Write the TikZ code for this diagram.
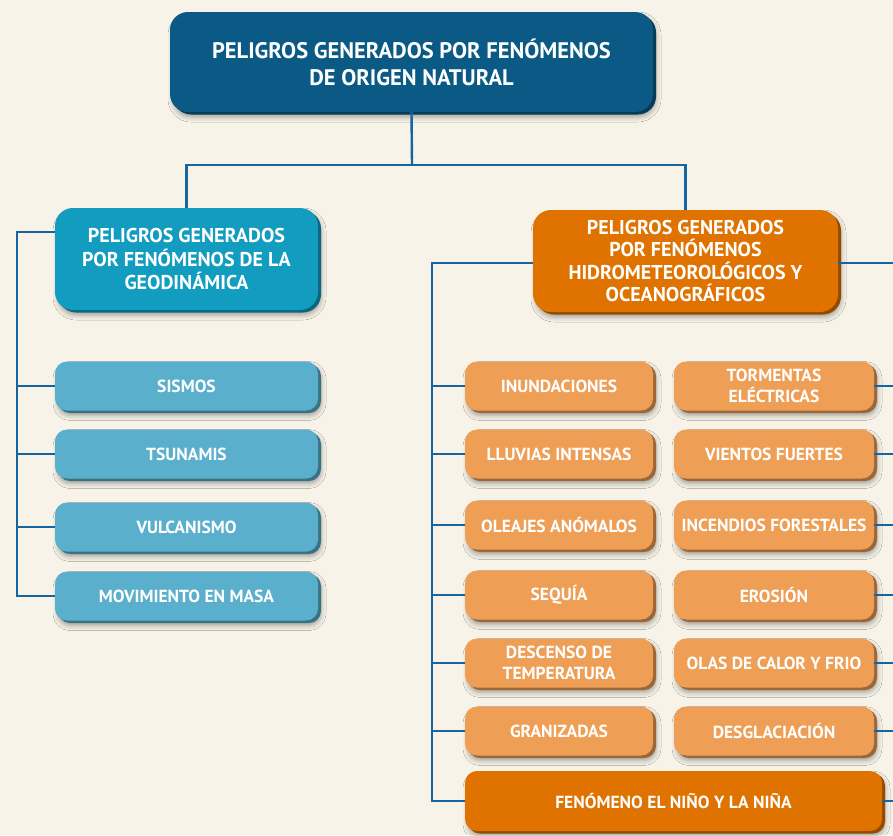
\documentclass[tikz,border=0pt]{standalone}
\usepackage{fontspec}
\setmainfont{PT Sans}
\usetikzlibrary{shadows,shadows.blur}
\definecolor{bgc}{HTML}{F7F3E8}
\definecolor{topblue}{HTML}{0B5A86}
\definecolor{geoteal}{HTML}{129DC0}
\definecolor{ltblue}{HTML}{5AB0CC}
\definecolor{dkorange}{HTML}{E07300}
\definecolor{ltorange}{HTML}{EE9F55}
\definecolor{linec}{HTML}{1565A0}
\tikzset{
  box/.style={rounded corners=12pt, text=white, font=\bfseries, align=center, inner sep=2pt,
    blur shadow={shadow xshift=3pt, shadow yshift=-5pt, shadow blur radius=5pt, shadow opacity=35},
    general shadow={fill=#1!65!black, shadow yshift=-2.5pt},
    fill=#1},
  bigbox/.style={box=#1, rounded corners=18pt},
  conn/.style={draw=linec, line width=2.4pt},
}
\begin{document}
\begin{tikzpicture}[x=1pt,y=-1pt]
\fill[bgc] (0,0) rectangle (893,835);
\useasboundingbox (0,0) rectangle (893,835);

% main
\node[bigbox=topblue, minimum width=483pt, minimum height=100pt, font=\bfseries\fontsize{22.5}{27}\selectfont] (top) at (411.5,62)
  {PELIGROS GENERADOS POR FENÓMENOS\\DE ORIGEN NATURAL};
\node[bigbox=geoteal, minimum width=263pt, minimum height=102pt, font=\bfseries\fontsize{20}{23.5}\selectfont] (geo) at (186.5,259)
  {PELIGROS GENERADOS\\POR FENÓMENOS DE LA\\GEODINÁMICA};
\node[bigbox=dkorange, minimum width=305pt, minimum height=102pt, font=\bfseries\fontsize{20}{22.5}\selectfont] (hid) at (685.5,261)
  {PELIGROS GENERADOS\\POR FENÓMENOS\\HIDROMETEOROLÓGICOS Y\\OCEANOGRÁFICOS};

% left small
\tikzset{lb/.style={box=ltblue, minimum width=263pt, minimum height=49pt, font=\bfseries\fontsize{17.5}{20}\selectfont}}
\node[lb] (sis) at (186.5,386) {SISMOS};
\node[lb] (tsu) at (186.5,454) {TSUNAMIS};
\node[lb] (vul) at (186.5,527) {VULCANISMO};
\node[lb] (mov) at (186.5,596) {MOVIMIENTO EN MASA};

% orange small
\tikzset{ol/.style={box=ltorange, minimum width=188pt, minimum height=49pt, font=\bfseries\fontsize{17.5}{21}\selectfont},
         orr/.style={box=ltorange, minimum width=200pt, minimum height=49pt, font=\bfseries\fontsize{17.5}{21}\selectfont}}
\node[ol] (inu) at (559,386) {INUNDACIONES};
\node[ol] (llu) at (559,454) {LLUVIAS INTENSAS};
\node[ol] (ole) at (559,525) {OLEAJES ANÓMALOS};
\node[ol] (seq) at (559,595) {SEQUÍA};
\node[ol] (des) at (559,663) {DESCENSO DE\\TEMPERATURA};
\node[ol] (gra) at (559,731) {GRANIZADAS};
\node[orr] (tor) at (774,386) {TORMENTAS\\ELÉCTRICAS};
\node[orr] (vie) at (774,454) {VIENTOS FUERTES};
\node[orr] (inc) at (774,525) {INCENDIOS FORESTALES};
\node[orr] (ero) at (774,595) {EROSIÓN};
\node[orr] (ola) at (774,663) {OLAS DE CALOR Y FRIO};
\node[orr] (deg) at (774,731) {DESGLACIACIÓN};
\node[box=dkorange, minimum width=417pt, minimum height=60pt, font=\bfseries\fontsize{17.5}{20}\selectfont] (nin) at (673.5,801) {FENÓMENO EL NIÑO Y LA NIÑA};

% connectors
\coordinate (jt) at (412,165);
\coordinate (lbr) at (17,232);
\coordinate (rbr) at (432,263);
\coordinate (rr) at (900,263);
\draw[conn] (top.south) -- (jt);
\draw[conn] (geo.north) -- (geo.north |- jt) -- (hid.north |- jt) -- (hid.north);
\draw[conn] (geo.west |- lbr) -- (lbr) -- (lbr |- mov.west) -- (mov.west);
\foreach \n in {sis,tsu,vul} \draw[conn] (\n.west) -- (\n.west -| lbr);
\draw[conn] (hid.west |- rbr) -- (rbr) -- (rbr |- nin.west) -- (nin.west);
\foreach \n in {inu,llu,ole,seq,des,gra} \draw[conn] (\n.west) -- (\n.west -| rbr);
\draw[conn] (hid.east |- rbr) -- (rr);
\foreach \n in {tor,vie,inc,ero,ola,deg,nin} \draw[conn] (\n.east) -- (\n.east -| rr);
\end{tikzpicture}
\end{document}
